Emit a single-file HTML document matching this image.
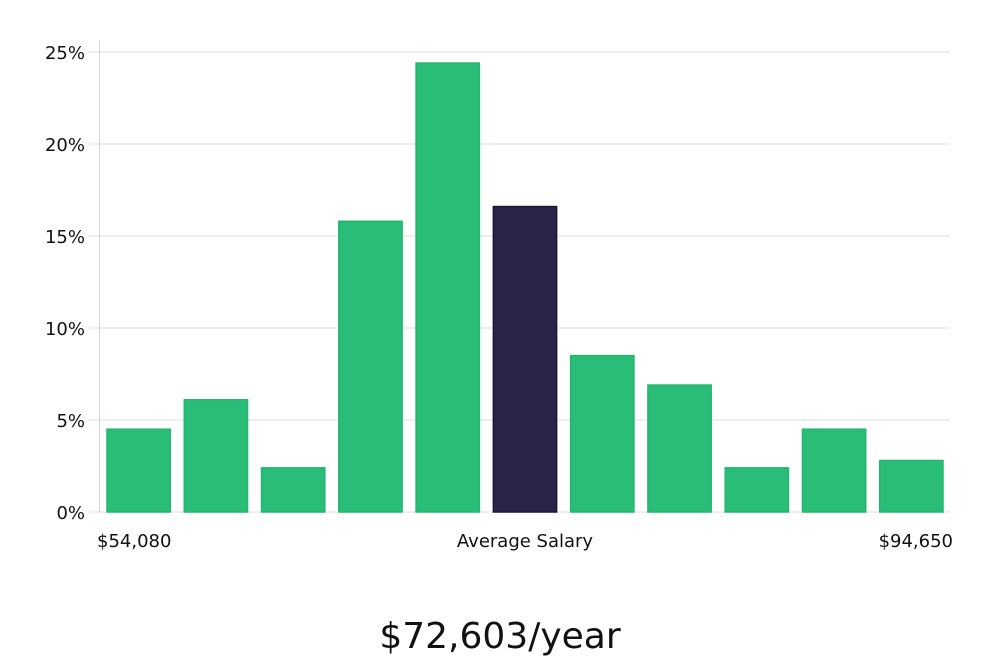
<!DOCTYPE html>
<html><head><meta charset="utf-8"><style>
body{margin:0;background:#fff;width:1000px;height:660px;overflow:hidden}
text{font-family:"DejaVu Sans","Liberation Sans",sans-serif}
</style></head><body>
<svg id="chart" width="1000" height="660" xmlns="http://www.w3.org/2000/svg">
<g id="grid"></g><g id="bars"></g><g id="labels"></g>
</svg>
<script>
const categories=["b1","b2","b3","b4","b5","b6","b7","b8","b9","b10","b11"];
const values=[4.5,6.1,2.4,15.8,24.4,16.6,8.5,6.9,2.4,4.5,2.8];
const highlightIndex=5;
const yTicks=[0,5,10,15,20,25];
const yTickLabels=["0%","5%","10%","15%","20%","25%"];
const xLabels=["$54,080","Average Salary","$94,650"];
const salaryText="$72,603/year";

const NS="http://www.w3.org/2000/svg";
const L=100,R=950,T=52,B=512,yMax=25;
const y=v=>B-(v/yMax)*(B-T);
const step=(R-L)/categories.length;
const x=i=>L+i*step;
function mk(tag,attrs,parent){const e=document.createElementNS(NS,tag);for(const k in attrs)e.setAttribute(k,attrs[k]);parent.appendChild(e);return e;}
const grid=document.getElementById('grid'),bars=document.getElementById('bars'),labels=document.getElementById('labels');
yTicks.forEach((t,i)=>{
  const ln=mk('line',{x1:89,x2:R,y1:y(t),y2:y(t),stroke:'#dcdcdc','stroke-width':1},grid);
  
  
  const tx=mk('text',{x:85,y:y(t)+7,'text-anchor':'end','font-size':18,fill:'#111'},labels);
  tx.textContent=yTickLabels[i];
  
  
});
const ax=mk('line',{x1:99.5,x2:99.5,y1:40,y2:B,stroke:'#d6d6d6','stroke-width':1},grid);


values.forEach((v,i)=>{
  const hi=i===highlightIndex;
  const r=mk('rect',{x:x(i)+7,y:y(v),width:step-14,height:B-y(v),fill:hi?'#28244a':'#2abd77',stroke:hi?'#1a1833':'#22b66f','stroke-width':1.5},bars);
  
  
});
const xPos=[[97,'start'],[525,'middle'],[953,'end']];
xLabels.forEach((s,i)=>{
  const t=mk('text',{x:xPos[i][0],y:547,'text-anchor':xPos[i][1],'font-size':18,fill:'#111'},labels);
  t.textContent=s;
  
  
});
const st=mk('text',{x:500,y:648,'text-anchor':'middle','font-size':36,fill:'#111','font-family':'"Liberation Sans",sans-serif'},labels);
st.textContent=salaryText;


</script>
</body></html>
